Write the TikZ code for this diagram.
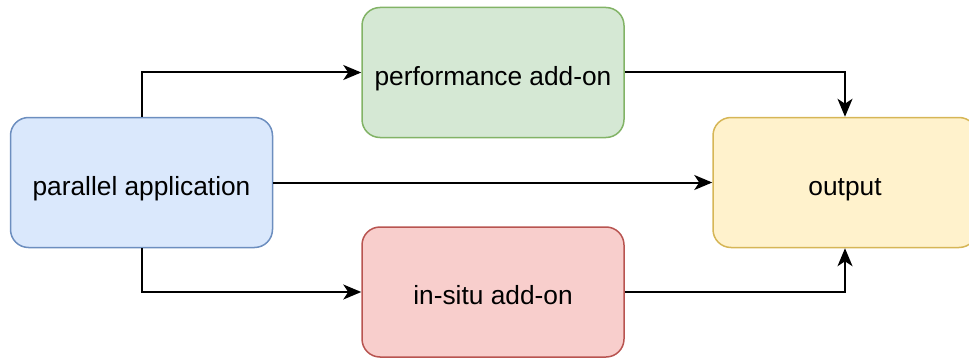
\documentclass[tikz,border=0pt]{standalone}
\usepackage{fontspec}
\setmainfont{Liberation Sans}
\usetikzlibrary{arrows.meta}
\definecolor{blueF}{HTML}{DAE8FC}\definecolor{blueS}{HTML}{6C8EBF}
\definecolor{greenF}{HTML}{D5E8D4}\definecolor{greenS}{HTML}{82B366}
\definecolor{redF}{HTML}{F8CECC}\definecolor{redS}{HTML}{B85450}
\definecolor{yelF}{HTML}{FFF2CC}\definecolor{yelS}{HTML}{D6B656}
\begin{document}
\begin{tikzpicture}[x=1pt,y=-1pt,
  box/.style={draw, rounded corners=18pt, line width=1.5pt, minimum width=262pt, minimum height=130pt, inner sep=0pt, text height=25pt, text depth=0pt, font=\fontsize{26.3}{30}\selectfont},
  conn/.style={line width=2pt, -{Stealth[length=18pt,width=15pt,inset=5pt]}}]
\useasboundingbox (0,0) rectangle (969,361);
\clip (0,0) rectangle (969,361);
\node[box, fill=blueF, draw=blueS] (par) at (141.5,182.5) {parallel application};
\node[box, fill=greenF, draw=greenS] (perf) at (493,72.5) {performance add-on};
\node[box, fill=redF, draw=redS] (insitu) at (493,292) {in-situ add-on};
\node[box, fill=yelF, draw=yelS, minimum width=264pt] (out) at (845,182.5) {output};
\draw[conn] (par.north) |- (perf.west);
\draw[conn] (perf.east) -| (out.north);
\draw[conn] (par.east) -- (out.west);
\draw[conn] (par.south) |- (insitu.west);
\draw[conn] (insitu.east) -| (out.south);
\end{tikzpicture}
\end{document}
